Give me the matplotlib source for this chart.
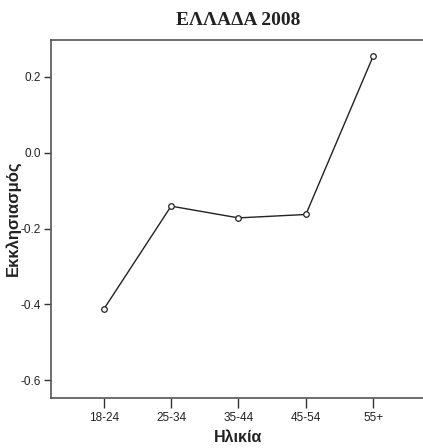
import matplotlib
matplotlib.use("Agg")
import matplotlib.pyplot as plt

categories = ["18-24", "25-34", "35-44", "45-54", "55+"]
values = [-0.413, -0.141, -0.172, -0.163, 0.255]
yticks = [0.2, 0.0, -0.2, -0.4, -0.6]
ytick_labels = ["0.2", "0.0", "-0.2", "-0.4", "-0.6"]

fig = plt.figure(figsize=(4.23, 4.48), dpi=100)
ax = fig.add_axes([0.120, 0.1116, 0.885, 0.799])

x = list(range(len(categories)))
ax.plot(x, values, color="#222222", linewidth=1.0, marker="o", markersize=4,
        markerfacecolor="white", markeredgecolor="#222222", markeredgewidth=0.9)

ax.set_xlim(-0.786, 4.77)
ax.set_ylim(-0.647, 0.297)
ax.set_xticks(x)
ax.set_xticklabels(categories, fontsize=8.5, family="Liberation Sans", color="#222222")
ax.set_yticks(yticks)
ax.set_yticklabels(ytick_labels, fontsize=8.5, family="Liberation Sans", color="#222222")
ax.tick_params(axis="x", length=7, width=1, color="#333333", pad=3)
ax.tick_params(axis="y", length=5, width=1, color="#333333", pad=2)

for s in ["top", "left", "bottom"]:
    ax.spines[s].set_color("#555555")
    ax.spines[s].set_linewidth(1.2)
ax.spines["right"].set_visible(False)

fig.text(0.563, 0.024, "Ηλικία", ha="center", va="center",
         fontsize=11.5, fontweight="bold", family="Liberation Sans", color="#222222")
fig.text(0.031, 0.513, "Εκκλησιασμός", rotation=90, ha="center", va="center",
         fontsize=12, fontweight="bold", family="Liberation Sans", color="#222222")
fig.text(0.563, 0.955, "ΕΛΛΑΔΑ 2008", ha="center", va="center", fontsize=14,
         fontweight="bold", family="Liberation Serif", color="#222222")

fig.savefig("out.png", dpi=100)
